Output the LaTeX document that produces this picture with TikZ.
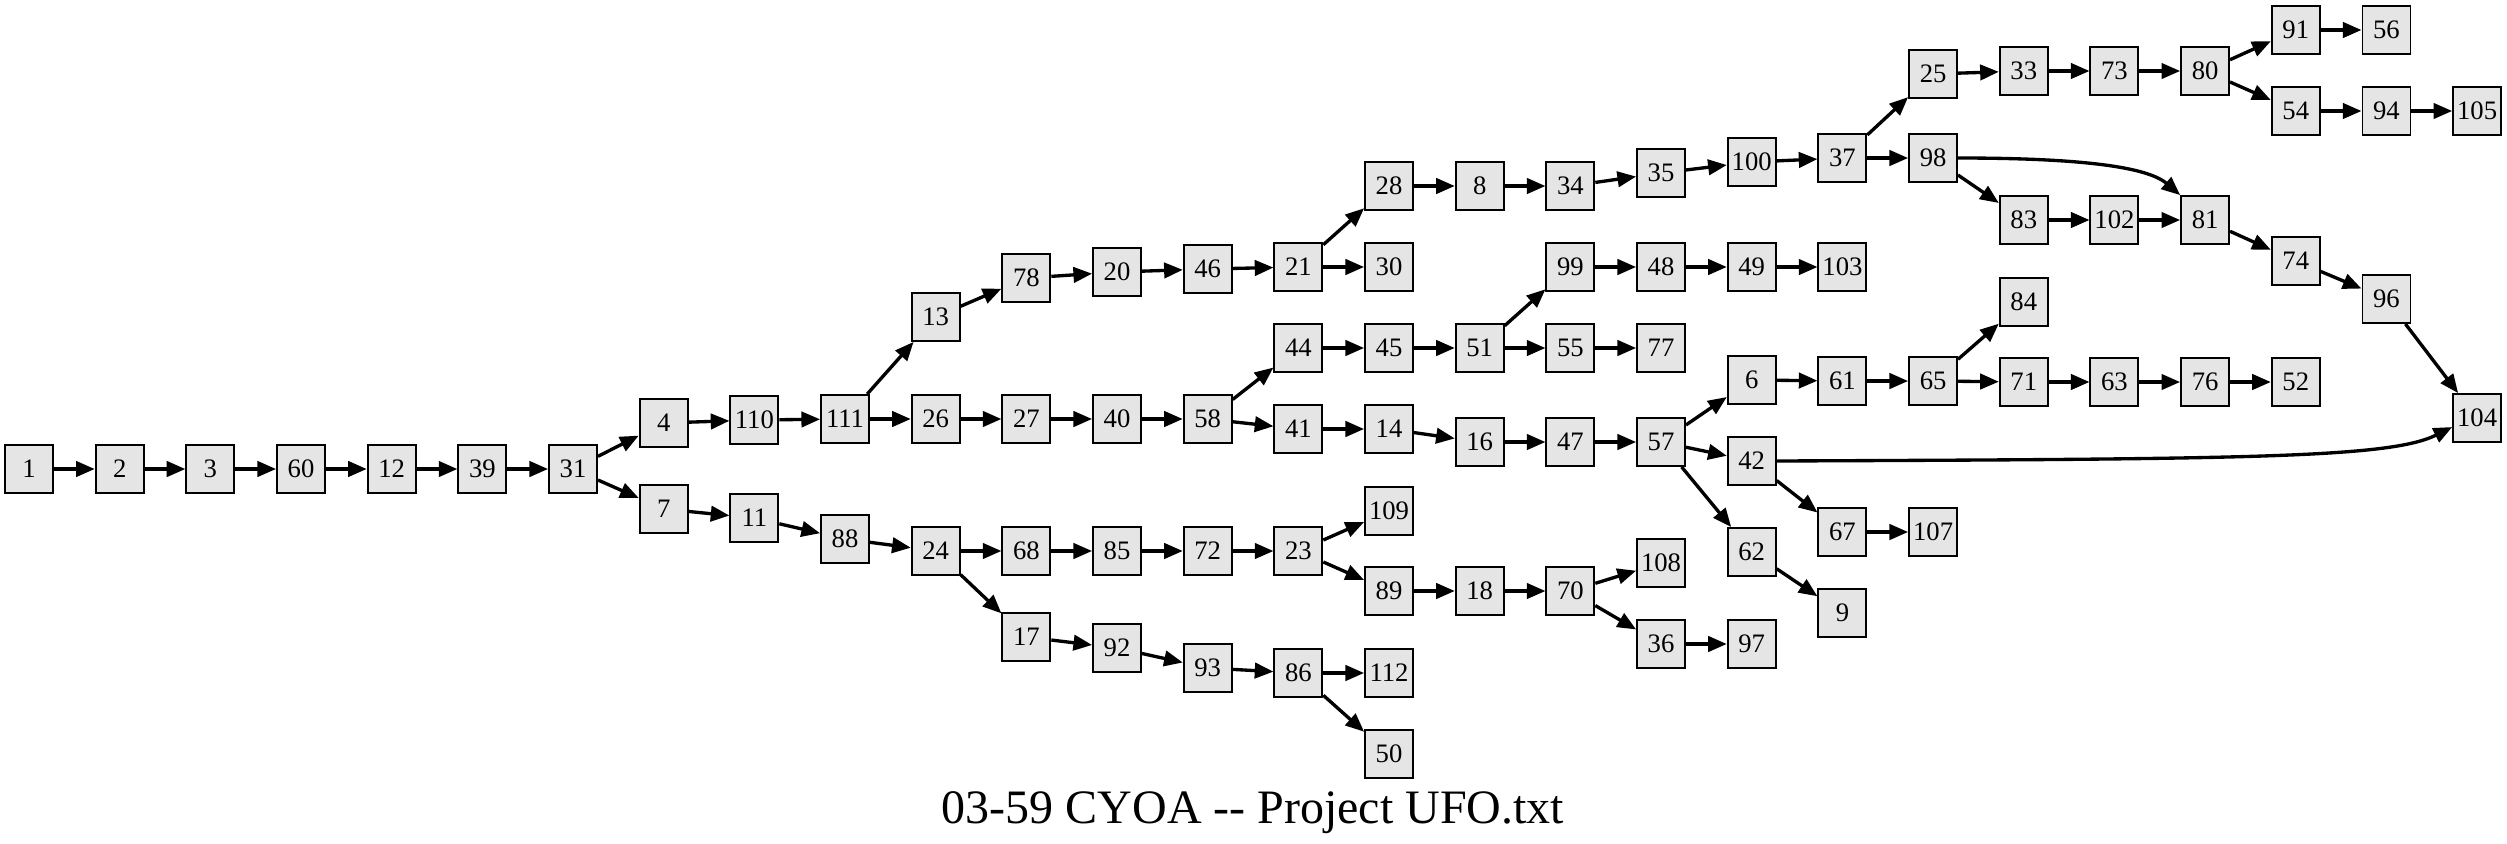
\documentclass[tikz,border=0pt]{standalone}
\usepackage{fontspec}
\setmainfont{Liberation Serif}
\usetikzlibrary{arrows.meta}
\definecolor{nodegray}{HTML}{E5E5E5}
\begin{document}
\begin{tikzpicture}[x=0.75pt,y=-0.75pt,
  box/.style={draw=black, line width=1.4pt, fill=nodegray, minimum width=36pt, minimum height=36pt, inner sep=0pt, font=\fontsize{20}{20}\selectfont},
  edge/.style={line width=2.5pt, -{Triangle[length=14pt,width=11.5pt]}}]
\useasboundingbox (0,0) rectangle (2507,843);
\foreach \nm/\k/\yy in {
  1/0/469, 2/1/469, 3/2/469, 60/3/469, 12/4/469, 39/5/469, 31/6/469,
  4/7/423, 7/7/509,
  110/8/420, 11/8/518,
  111/9/419, 88/9/539,
  13/10/317, 26/10/419, 24/10/551,
  78/11/278, 27/11/419, 68/11/551, 17/11/637,
  20/12/272, 40/12/419, 85/12/551, 92/12/648,
  46/13/269, 58/13/419, 72/13/551, 93/13/668,
  21/14/267, 44/14/348, 41/14/429, 23/14/551, 86/14/673,
  28/15/186, 30/15/267, 45/15/348, 14/15/429, 109/15/511, 89/15/591, 112/15/673, 50/15/754,
  8/16/186, 51/16/348, 16/16/442, 18/16/591,
  34/17/186, 99/17/267, 55/17/348, 47/17/442, 70/17/591,
  35/18/173, 48/18/267, 77/18/348, 57/18/442, 108/18/563, 36/18/644,
  100/19/162, 49/19/267, 6/19/380, 42/19/461, 62/19/552, 97/19/644,
  37/20/158, 103/20/267, 61/20/381, 67/20/532, 9/20/613,
  25/21/74, 98/21/158, 65/21/381, 107/21/532,
  33/22/71, 83/22/220, 84/22/302, 71/22/382,
  73/23/71, 102/23/220, 63/23/382,
  80/24/71, 81/24/220, 76/24/382,
  91/25/30, 54/25/111, 74/25/261, 52/25/382,
  56/26/30, 94/26/111, 96/26/299,
  105/27/111, 104/27/418}
  \node[box] (n\nm) at ({29+90.67*\k},\yy) {\nm};
\foreach \a/\b in {
  1/2, 2/3, 3/60, 60/12, 12/39, 39/31, 31/4, 31/7, 4/110, 110/111, 111/13, 111/26,
  13/78, 78/20, 20/46, 46/21, 21/28, 21/30, 28/8, 8/34, 34/35, 35/100, 100/37,
  37/25, 37/98, 25/33, 33/73, 73/80, 80/91, 80/54, 91/56, 54/94, 94/105,
  98/83, 83/102, 102/81, 81/74, 74/96, 96/104,
  26/27, 27/40, 40/58, 58/44, 58/41, 44/45, 45/51, 51/99, 51/55, 99/48, 48/49,
  49/103, 55/77, 41/14, 14/16, 16/47, 47/57, 57/6, 57/42, 57/62, 6/61, 61/65,
  65/84, 65/71, 71/63, 63/76, 76/52, 42/67, 67/107, 62/9,
  7/11, 11/88, 88/24, 24/68, 24/17, 68/85, 85/72, 72/23, 23/109, 23/89, 89/18,
  18/70, 70/108, 70/36, 36/97, 17/92, 92/93, 93/86, 86/112, 86/50}
  \draw[edge] (n\a) -- (n\b);
\draw[edge] (n98.east) .. controls +(110,0) and +(-35,-30) .. (n81.north west);
\draw[edge] (n42.east) .. controls (2250,459) and (2390,458) .. (n104.200);
\node[font=\fontsize{36}{36}\selectfont, anchor=base, inner sep=0pt] (title) at (1253,823) {03-59 CYOA -{}- Project UFO.txt};
\end{tikzpicture}
\end{document}
